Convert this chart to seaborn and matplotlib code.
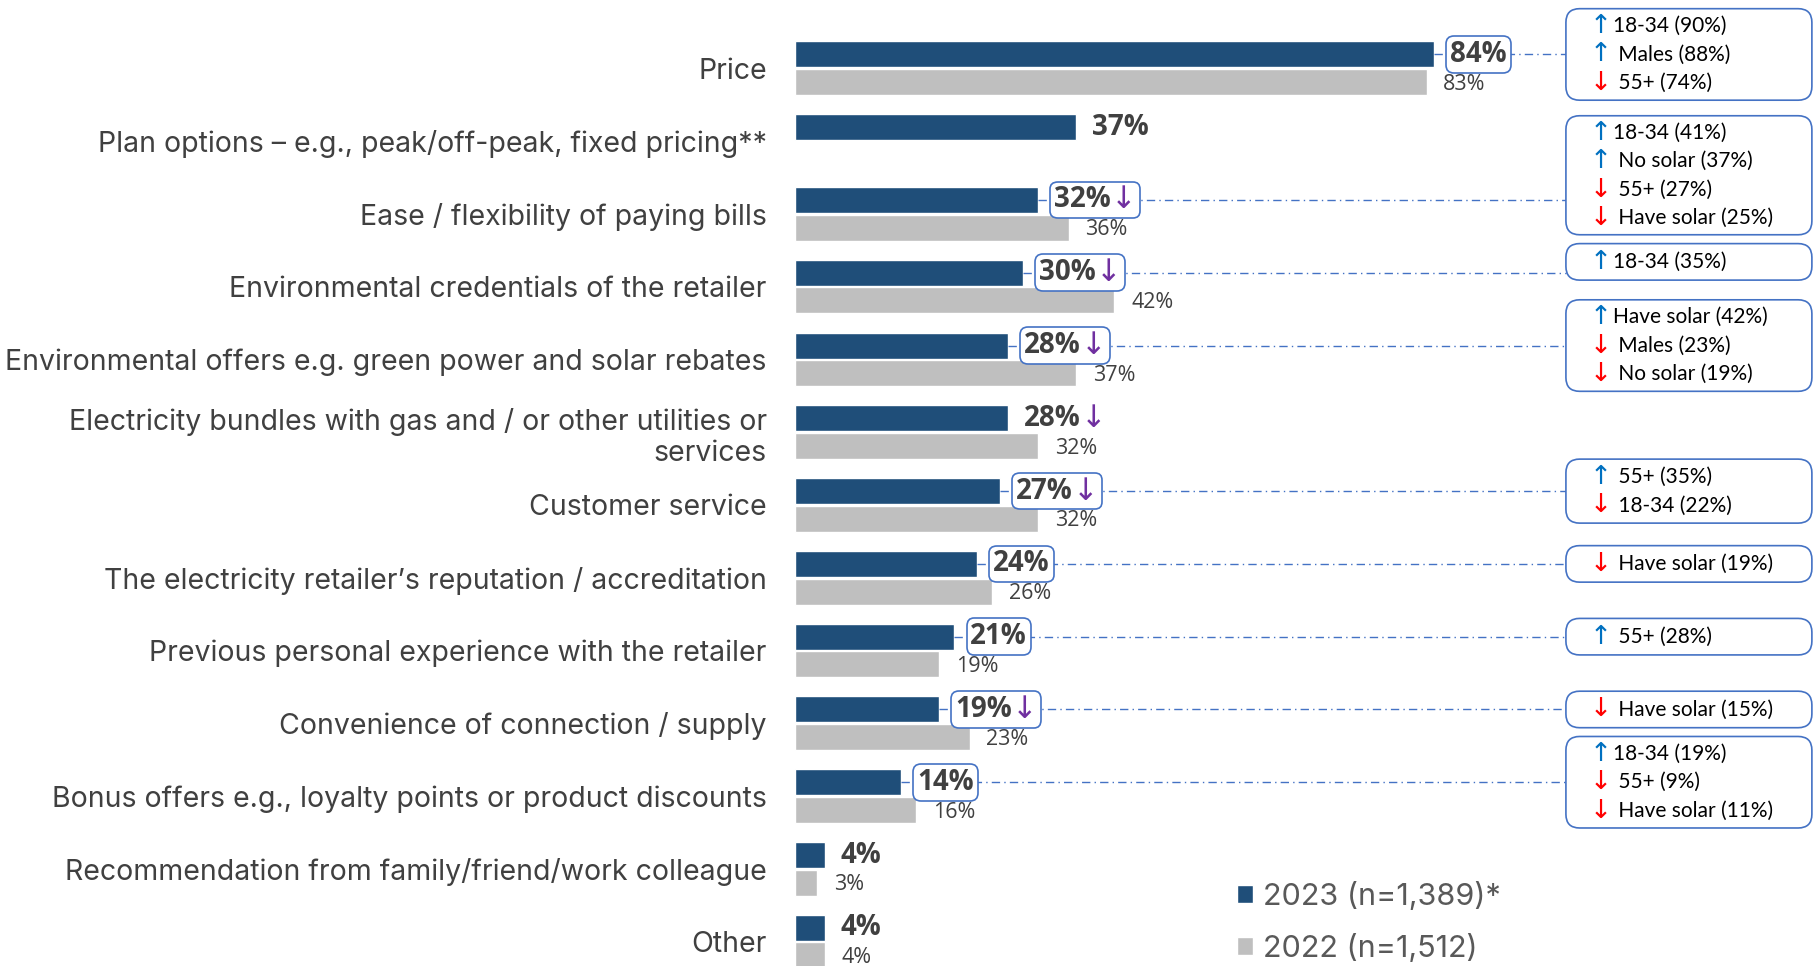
import matplotlib
matplotlib.use('Agg')
import matplotlib.pyplot as plt
import seaborn as sns
import pandas as pd
from matplotlib.patches import FancyBboxPatch
from matplotlib.offsetbox import TextArea, HPacker, AnnotationBbox

# ---- data ----
categories = [
    'Price',
    'Plan options \u2013 e.g., peak/off-peak, fixed pricing**',
    'Ease / flexibility of paying bills',
    'Environmental credentials of the retailer',
    'Environmental offers e.g. green power and solar rebates',
    'Electricity bundles with gas and / or other utilities or\nservices',
    'Customer service',
    'The electricity retailer\u2019s reputation / accreditation',
    'Previous personal experience with the retailer',
    'Convenience of connection / supply',
    'Bonus offers e.g., loyalty points or product discounts',
    'Recommendation from family/friend/work colleague',
    'Other',
]
values_2023 = [84, 37, 32, 30, 28, 28, 27, 24, 21, 19, 14, 4, 4]
values_2022 = [83, None, 36, 42, 37, 32, 32, 26, 19, 23, 16, 3, 4]
sig_down_2023 = [False, False, True, True, True, True, True, False, False, True, False, False, False]
boxed_2023 = [True, False, True, True, True, False, True, True, True, True, True, False, False]
series_names = ['2023 (n=1,389)*', '2022 (n=1,512)']

# subgroup call-outs (row index -> lines of (direction, text))
callouts = {
    0: [('up', '18-34 (90%)'), ('up', ' Males (88%)'), ('down', ' 55+ (74%)')],
    2: [('up', '18-34 (41%)'), ('up', ' No solar (37%)'), ('down', ' 55+ (27%)'), ('down', ' Have solar (25%)')],
    3: [('up', '18-34 (35%)')],
    4: [('up', 'Have solar (42%)'), ('down', ' Males (23%)'), ('down', ' No solar (19%)')],
    6: [('up', ' 55+ (35%)'), ('down', ' 18-34 (22%)')],
    7: [('down', ' Have solar (19%)')],
    8: [('up', ' 55+ (28%)')],
    9: [('down', ' Have solar (15%)')],
    10: [('up', '18-34 (19%)'), ('down', ' 55+ (9%)'), ('down', ' Have solar (11%)')],
}

# ---- style ----
navy = '#1F4E79'
grey = '#BFBFBF'
text_col = '#404040'
box_col = '#4472C4'
purple = '#7030A0'
arrow_cols = {'up': '#0070C0', 'down': '#FF0000'}
arrow_chars = {'up': '\u2191', 'down': '\u2193'}

num_font = ['Open Sans', 'DejaVu Sans']
label_font = ['Inter', 'DejaVu Sans']
note_font = ['Lato', 'DejaVu Sans']

sns.set_theme(style='white')
plt.rcParams['font.family'] = label_font

rows = []
for cat, a, b in zip(categories, values_2023, values_2022):
    rows.append({'category': cat, 'year': series_names[0], 'value': a})
    if b is not None:
        rows.append({'category': cat, 'year': series_names[1], 'value': b})
df = pd.DataFrame(rows)

fig = plt.figure(figsize=(18.16, 9.66), dpi=100)
ax = fig.add_axes([794.5 / 1816, 0, 1 - 794.5 / 1816, 1])

bar_w = 0.76
sns.barplot(data=df, x='value', y='category', hue='year', order=categories,
            hue_order=series_names, palette=[navy, grey], orient='h',
            width=bar_w, gap=0.06, saturation=1, errorbar=None, ax=ax)

ax.set_xlim(0, 134.14)
ax.set_ylim(12.335, -0.938)
sns.despine(ax=ax, left=True, bottom=True)
ax.set_xticks([])
ax.set_xlabel('')
ax.set_ylabel('')
ax.tick_params(axis='y', length=0, pad=20)
ax.set_yticks(range(len(categories)))
ax.set_yticklabels(categories, fontsize=20.5, color=text_col, family=label_font)

off = bar_w / 4
callout_x0, callout_x1 = 101.3, 133.6
arrow_x, note_x = 104.4, 107.5
row_px = 72.78
line_step = 28.5 / row_px
box_shift = {2: -0.34, 3: -0.15}

# value labels
for i, (a, b) in enumerate(zip(values_2023, values_2022)):
    kids = [TextArea(f'{a}%', textprops=dict(color=text_col, fontsize=20,
                                             fontweight='bold', family=num_font))]
    if sig_down_2023[i]:
        kids.append(TextArea('\u2193', textprops=dict(color=purple, fontsize=22,
                                                      family=['DejaVu Sans'])))
    pack = HPacker(children=kids, pad=0, sep=0, align='center')
    ab = AnnotationBbox(pack, (a + 2.1, i - off), xycoords='data', box_alignment=(0, 0.5),
                        frameon=boxed_2023[i], pad=0.2,
                        bboxprops=dict(boxstyle='round,pad=0.25,rounding_size=0.5',
                                       ec=box_col, fc='white', lw=1.2))
    ab.set_zorder(4)
    ax.add_artist(ab)
    if b is not None:
        ax.text(b + 2.2, i + off + 0.03, f'{b}%', ha='left', va='center', fontsize=15.5,
                color=text_col, family=num_font)

# call-out boxes
p0 = ax.transData.transform((0, 0))
p1 = ax.transData.transform((1, 1))
aspect = abs(p1[0] - p0[0]) / abs(p1[1] - p0[1])
for i, lines in callouts.items():
    n = len(lines)
    y_line = i - off
    c = y_line + box_shift.get(i, 0)
    h = (n * 27.5 + 9) / row_px
    ax.plot([values_2023[i], callout_x0], [y_line, y_line], color=box_col, lw=1,
            ls=(0, (6, 3, 1, 3)), zorder=1)
    ax.add_patch(FancyBboxPatch((callout_x0, c - h / 2), callout_x1 - callout_x0, h,
                                boxstyle='round,pad=0,rounding_size=1.8',
                                mutation_aspect=aspect, fc='white', ec=box_col,
                                lw=1.2, clip_on=False, zorder=2))
    for k, (d, t) in enumerate(lines):
        yy = c - (n - 1) / 2 * line_step + k * line_step
        ax.text(arrow_x, yy, arrow_chars[d], color=arrow_cols[d], fontsize=19,
                ha='left', va='center', family=['DejaVu Sans'], zorder=3)
        ax.text(note_x, yy, t, color='black', fontsize=15, ha='left', va='center',
                family=note_font, zorder=3)

# legend
handles, labels = ax.get_legend_handles_labels()
ax.legend(handles, labels, loc='center left', bbox_to_anchor=(1222 / 1816, 1 - 922.5 / 966),
          bbox_transform=fig.transFigure, frameon=False, handlelength=0.5,
          handleheight=0.5, handletextpad=0.35, labelspacing=0.75, borderpad=0,
          labelcolor='#595959', prop=dict(family=label_font, size=22))

fig.savefig('out.png', dpi=100)
